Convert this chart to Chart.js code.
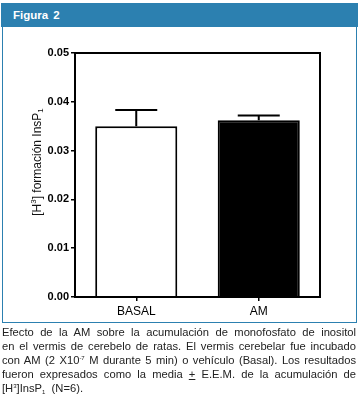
<!DOCTYPE html>
<html>
<head>
<meta charset="utf-8">
<script src="https://cdn.jsdelivr.net/npm/chart.js@4.4.1/dist/chart.umd.min.js"></script>
<style>
  body { margin: 0; background: #fff; font-family: "Liberation Sans", Arial, sans-serif; }
  #head { position: absolute; left: 1px; top: 3px; width: 357px; height: 24px; background: #2c80b0;
          color: #fff; font-weight: bold; font-size: 11.5px; line-height: 24px; padding-left: 12px; box-sizing: border-box; word-spacing: 2px; }
  #box { position: absolute; left: 2px; top: 27px; width: 355px; height: 296px; border: 1px solid #2c80b0; border-top: none; box-sizing: border-box; }
  #wrap { position: absolute; left: 0; top: 0; width: 360px; height: 330px; }
  #cap { position: absolute; left: 2px; top: 325px; width: 354px; font-size: 11.2px; line-height: 14px; color: #222; }
  #cap div { text-align: justify; text-align-last: justify; white-space: nowrap; }
  #cap div.last { text-align-last: left; }
  #cap sup, #cap sub { font-size: 6px; line-height: 0; vertical-align: baseline; position: relative; }
  #cap sup { top: -4px; }
  #cap sub { top: 2px; }
</style>
</head>
<body>
<div id="head">Figura 2</div>
<div id="box"></div>
<div id="wrap"><canvas id="chart" width="360" height="330"></canvas></div>
<div id="cap">
  <div>Efecto de la AM sobre la acumulación de monofosfato de inositol</div>
  <div>en el vermis de cerebelo de ratas. El vermis cerebelar fue incubado</div>
  <div>con AM (2 X10<sup>-7</sup> M durante 5 min) o vehículo (Basal). Los resultados</div>
  <div>fueron expresados como la media <u>+</u> E.E.M. de la acumulación de</div>
  <div class="last">[H<sup>3</sup>]InsP<sub>1</sub> &nbsp;(N=6).</div>
</div>
<script>
const categories = ["BASAL", "AM"];
const means = [0.035, 0.0362];
const sem = [0.0033, 0.0010];
const yTicks = [0, 0.01, 0.02, 0.03, 0.04, 0.05];

const errorBars = {
  id: "errorBars",
  afterDatasetsDraw(chart) {
    const ctx = chart.ctx;
    const y = chart.scales.y;
    const meta = chart.getDatasetMeta(0);
    ctx.save();
    ctx.strokeStyle = "#000";
    ctx.lineWidth = 2;
    meta.data.forEach((bar, i) => {
      const top = y.getPixelForValue(means[i] + sem[i]);
      ctx.beginPath();
      ctx.moveTo(bar.x, bar.y);
      ctx.lineTo(bar.x, top);
      ctx.moveTo(bar.x - 21, top);
      ctx.lineTo(bar.x + 21, top);
      ctx.stroke();
    });
    ctx.restore();
  }
};

const frame = {
  id: "frame",
  afterDraw(chart) {
    const a = chart.chartArea;
    const ctx = chart.ctx;
    ctx.save();
    ctx.strokeStyle = "#000";
    ctx.lineWidth = 2;
    ctx.strokeRect(a.left, a.top, a.right - a.left, a.bottom - a.top);
    // y axis title with super/subscript
    ctx.translate(38, 162);
    ctx.rotate(-Math.PI / 2);
    ctx.fillStyle = "#111";
    ctx.textBaseline = "middle";
    const big = "12px 'Liberation Sans', Arial, sans-serif";
    const small = "8px 'Liberation Sans', Arial, sans-serif";
    const parts = [["[H", big, 0], ["3", small, -4], ["] formación InsP", big, 0], ["1", small, 3]];
    let w = 0;
    parts.forEach(p => { ctx.font = p[1]; w += ctx.measureText(p[0]).width; });
    let x = -w / 2;
    parts.forEach(p => { ctx.font = p[1]; ctx.fillText(p[0], x, p[2]); x += ctx.measureText(p[0]).width; });
    ctx.restore();
  }
};

new Chart(document.getElementById("chart"), {
  type: "bar",
  data: {
    labels: categories,
    datasets: [{
      data: means,
      backgroundColor: ["#fff", "#000"],
      borderColor: "#000",
      borderWidth: 2,
      barPercentage: 0.67,
      categoryPercentage: 1
    }]
  },
  options: {
    responsive: false,
    animation: false,
    layout: { padding: { left: 0, right: 40, top: 53, bottom: 0 } },
    plugins: { legend: { display: false }, tooltip: { enabled: false } },
    scales: {
      x: {
        afterFit: s => { s.height = 33; },
        grid: { offset: false, drawOnChartArea: false, drawTicks: true, tickLength: 4, color: "#000", lineWidth: 1.5 },
        border: { display: false },
        ticks: { color: "#000", padding: 3, font: { family: "'Liberation Sans', Arial", size: 12 } }
      },
      y: {
        min: 0,
        max: 0.05,
        afterFit: s => { s.width = 75; },
        afterBuildTicks: s => { s.ticks = yTicks.map(v => ({ value: v })); },
        grid: { drawOnChartArea: false, drawTicks: true, tickLength: 4, color: "#000", lineWidth: 1.5 },
        border: { display: false },
        ticks: { color: "#000", padding: 2, callback: v => v.toFixed(2), font: { family: "'Liberation Sans', Arial", size: 11, weight: "bold" } }
      }
    }
  },
  plugins: [errorBars, frame]
});
</script>
</body>
</html>
